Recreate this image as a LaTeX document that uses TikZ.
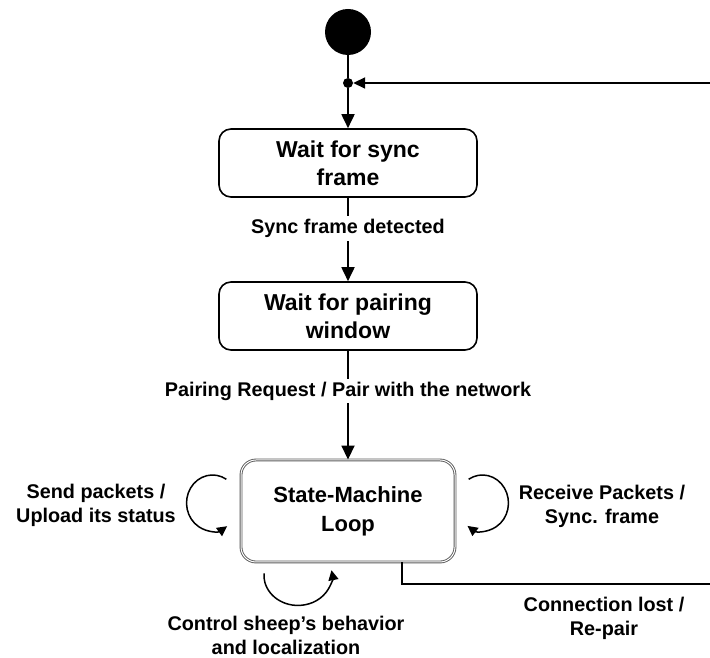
\documentclass[tikz,border=0pt]{standalone}
\usepackage{fontspec}
\setmainfont{Liberation Sans}
\usetikzlibrary{arrows.meta}

\begin{document}
\begin{tikzpicture}[x=1pt,y=1pt,
  statebox/.style={draw, line width=1.6pt, rounded corners=12pt,
    minimum width=258pt, minimum height=68pt, align=center,
    font=\fontsize{23}{28}\selectfont\bfseries},
  lbl/.style={font=\fontsize{19.8}{24}\selectfont\bfseries, align=center},
  flow/.style={line width=1.8pt, -{Triangle[width=13pt,length=14pt]}},
  selfloop/.style={line width=1.5pt, -{Triangle[width=10pt,length=10pt]}},
]
\useasboundingbox (0,0) rectangle (710,658);
\clip (0,0) rectangle (710,658);

% initial pseudo-state and merge point
\node[circle, fill=black, minimum size=46pt, inner sep=0pt] (init) at (348,626) {};
\node[circle, fill=black, minimum size=10pt, inner sep=0pt] (junc) at (348,575) {};

% states
\node[statebox] (wsync) at (348,495) {Wait for sync\\frame};
\node[statebox] (wpair) at (348,342) {Wait for pairing\\window};
\node[draw=black!65, double=white, double distance=1pt, line width=0.9pt,
      rounded corners=15pt, minimum width=214pt, minimum height=102pt,
      align=center, font=\fontsize{22}{29}\selectfont\bfseries]
      (smloop) at (348,147) {State-Machine\\Loop};

% main transitions
\draw[line width=1.8pt] (init) -- (junc);
\draw[flow] (junc) -- (wsync);
\draw[flow] (wsync) -- node[pos=0.37, fill=white, inner sep=3pt, lbl] {Sync frame detected} (wpair);
\draw[flow] (wpair) -- node[pos=0.37, fill=white, inner sep=3pt, lbl] {Pairing Request / Pair with the network} (smloop);

% connection lost: back to the merge point
\coordinate (cbend) at (402,74);
\coordinate (rbot) at (716,74);
\coordinate (rtop) at (716,575);
\draw[line width=1.8pt, -{Triangle[width=11pt,length=12pt]}]
  (smloop.south -| cbend) -- (cbend) -- (rbot) -- (rtop) -- (junc);
\node[lbl] (lostlbl) at (604,40) {Connection lost /\\Re-pair};

% self transitions
\coordinate (lc) at ([shift={(-28,8)}]smloop.west);
\coordinate (rc) at ([shift={(27,8)}]smloop.east);
\coordinate (bc) at ([shift={(-50,-13)}]smloop.south);
\draw[selfloop] ([shift={(58:26 and 28)}]lc) arc[start angle=58, end angle=304, x radius=26, y radius=28];
\draw[selfloop] ([shift={(122:26 and 28)}]rc) arc[start angle=122, end angle=-125, x radius=26, y radius=28];
\draw[selfloop] ([shift={(176:34 and 30)}]bc) arc[start angle=176, end angle=370, x radius=34, y radius=30];

\node[lbl] (sendlbl) at (96,153) {Send packets /\\Upload its status};
\node[lbl] (recvlbl) at (602,152) {Receive Packets /\\Sync. frame};
\node[lbl] (ctrllbl) at (286,23) {Control sheep’s behavior\\and localization};
\end{tikzpicture}
\end{document}
